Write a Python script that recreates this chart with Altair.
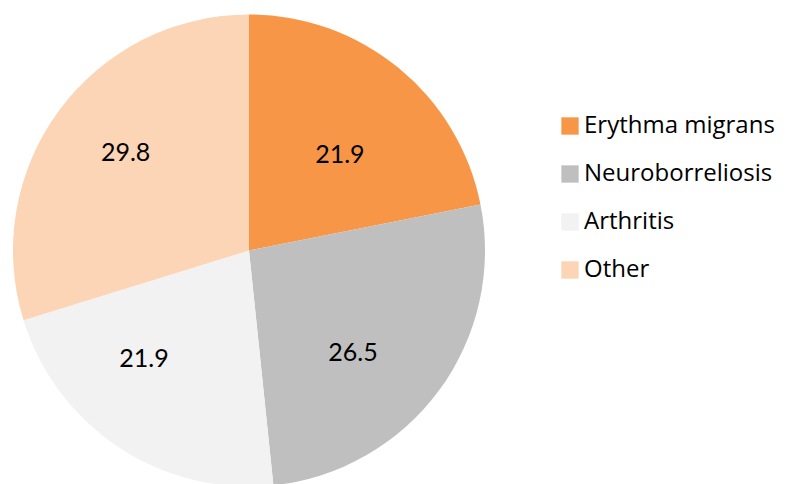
import math
import altair as alt
import pandas as pd

categories = ["Erythma migrans", "Neuroborreliosis", "Arthritis", "Other"]
values = [21.9, 26.5, 21.9, 29.8]
colors = ["#F79646", "#BFBFBF", "#F2F2F2", "#FBD5B5"]

# label placement styling (radius in px, angular nudge in degrees)
label_radius = [132, 146, 151, 157]
label_nudge = [4.1, 8.2, 10.6, 1.8]

df = pd.DataFrame({"category": categories, "value": values, "order": list(range(len(categories)))})

CX, CY, R = 241, 242.5, 236
FONT = "Lato"

base = alt.Chart(df).encode(
    theta=alt.Theta("value:Q", stack=True),
    order=alt.Order("order:Q"),
)

pie = base.mark_arc(radius=R, x=CX, y=CY, stroke=None).encode(
    color=alt.Color(
        "category:N",
        scale=alt.Scale(domain=categories, range=colors),
        sort=categories,
        legend=alt.Legend(
            title=None,
            orient="none",
            legendX=550,
            legendY=106,
            symbolType="square",
            symbolSize=300,
            symbolStrokeWidth=0,
            symbolOpacity=1,
            labelFont="Open Sans",
            labelFontSize=24,
            labelColor="#000000",
            labelOffset=2,
            rowPadding=24,
            labelLimit=300,
        ),
    )
)

layers = [pie]
for i, cat in enumerate(categories):
    t = base.mark_text(
        radius=label_radius[i],
        thetaOffset=math.radians(label_nudge[i]),
        x=CX,
        y=CY,
        font=FONT,
        fontSize=25,
        color="#000000",
        align="center",
        baseline="middle",
    ).encode(text=alt.Text("value:Q", format=".1f"))
    # keep stacking over all rows, draw only this category's label
    t = t.encode(opacity=alt.condition(alt.datum.category == cat, alt.value(1), alt.value(0)))
    layers.append(t)

chart = alt.layer(*layers).properties(
    width=771,
    height=476,
    padding=0,
    autosize=alt.AutoSizeParams(type="none"),
).configure_view(stroke=None)

chart.save("out.html", embed_options={"renderer": "svg", "actions": False})
